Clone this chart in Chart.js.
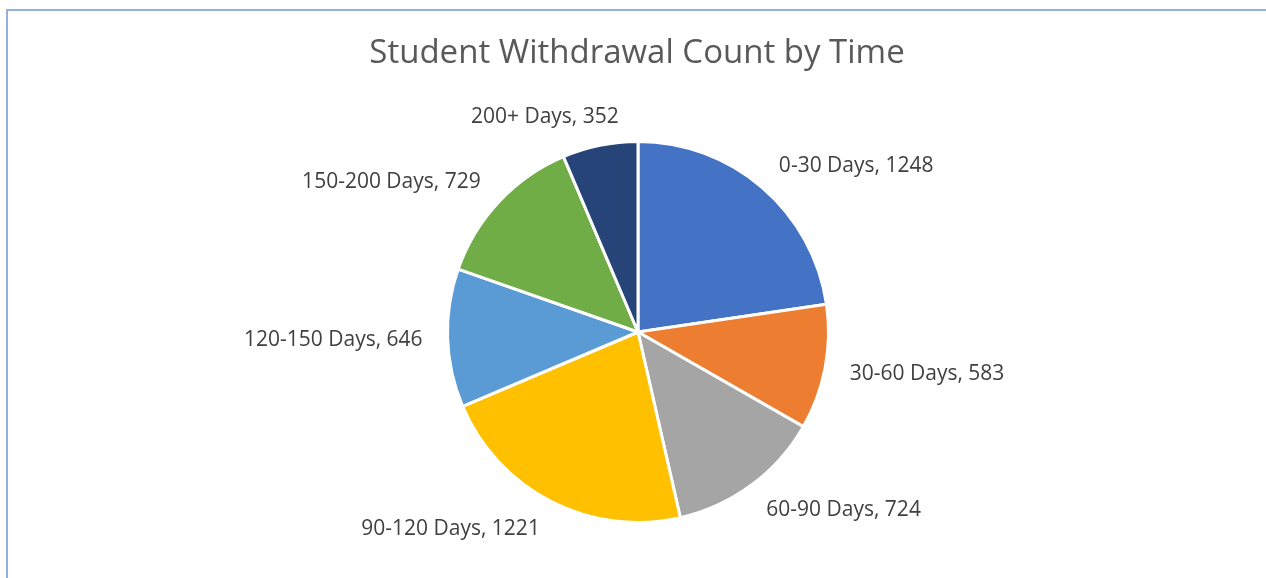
<!DOCTYPE html>
<html><head><meta charset="utf-8">
<script src="https://cdn.jsdelivr.net/npm/chart.js@4/dist/chart.umd.min.js"></script>
<style>
html,body{margin:0;padding:0;background:#fff;overflow:hidden;}
#wrap{position:relative;width:1266px;height:578px;}
#frame{position:absolute;left:6px;top:9px;width:1300px;height:600px;border-left:2px solid #94b0e0;border-top:2px solid #94b0e0;}
canvas{position:absolute;left:0;top:0;}
</style></head>
<body><div id="wrap"><div id="frame"></div><canvas id="c" width="1266" height="578"></canvas></div>
<script>
const title = "Student Withdrawal Count by Time";
const categories = ["0-30 Days","30-60 Days","60-90 Days","90-120 Days","120-150 Days","150-200 Days","200+ Days"];
const counts = [1248,583,724,1221,646,729,352];
const colors = ["#4472c4","#ed7d31","#a5a5a5","#ffc000","#5b9bd5","#70ad47","#264478"];

const FONT = "'Open Sans', 'Liberation Sans', sans-serif";

const labelPlugin = {
  id:'pieLabels',
  afterDraw(chart){
    const ctx = chart.ctx;
    ctx.save();
    ctx.fillStyle = '#595959';
    ctx.font = "33px " + FONT;
    ctx.textAlign = 'center';
    ctx.textBaseline = 'middle';
    ctx.fillText(title, 637, 54);
    const meta = chart.getDatasetMeta(0);
    ctx.font = "21px " + FONT;
    ctx.fillStyle = '#404040';
    meta.data.forEach((arc, i) => {
      const p = arc.getProps(['x','y','startAngle','endAngle','outerRadius'], true);
      const mid = (p.startAngle + p.endAngle)/2;
      const R = p.outerRadius + 25;
      const ax = p.x + Math.cos(mid)*R;
      const ay = p.y + Math.sin(mid)*R;
      const txt = categories[i] + ", " + chart.data.datasets[0].data[i];
      const w = ctx.measureText(txt).width;
      const f = Math.max(-1, Math.min(1, Math.cos(mid)*3.4));
      const cx = ax + f*w/2;
      ctx.textAlign = 'center';
      ctx.textBaseline = 'middle';
      ctx.fillText(txt, cx, ay + 1 + 5*Math.sin(mid));
    });
    ctx.restore();
  }
};

new Chart(document.getElementById('c'), {
  type:'pie',
  data:{ labels: categories, datasets:[{ data: counts, backgroundColor: colors, borderColor:'#ffffff', borderWidth:3 }]},
  options:{
    responsive:false, animation:false,
    layout:{ padding:{ top:140, bottom:54, left:10, right:0 } },
    plugins:{ legend:{display:false}, tooltip:{enabled:false}, title:{display:false} }
  },
  plugins:[labelPlugin]
});
</script></body></html>
